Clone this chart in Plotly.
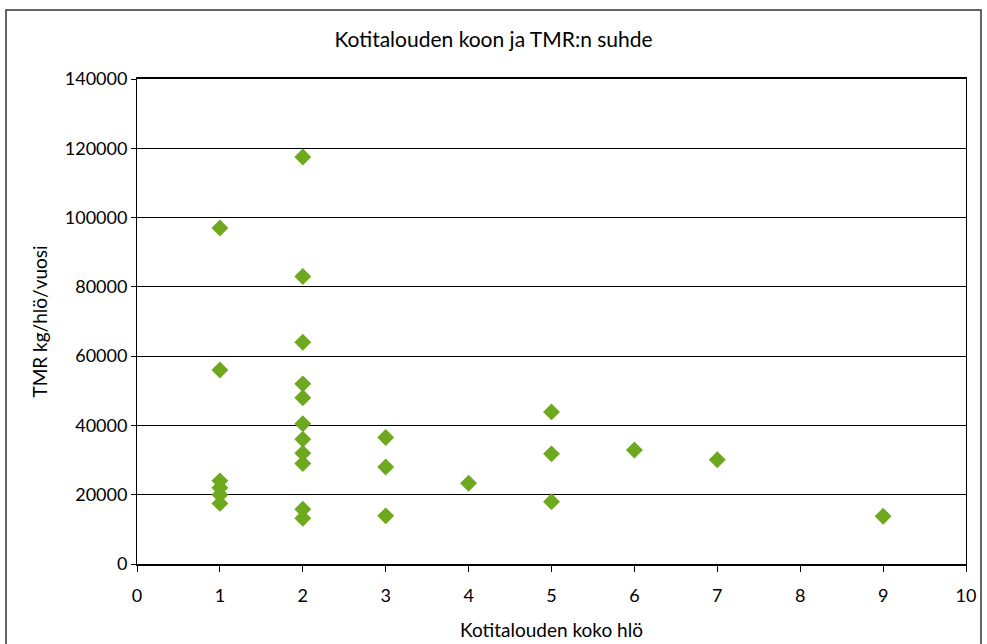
import plotly.graph_objects as go

household_size = [1, 1, 1, 1, 1, 1,
                  2, 2, 2, 2, 2, 2, 2, 2, 2, 2, 2,
                  3, 3, 3,
                  4,
                  5, 5, 5,
                  6, 7, 9]
tmr = [97000, 56000, 24000, 22000, 20000, 17500,
       117500, 83000, 64000, 52000, 48000, 40500, 36000, 32000, 29000, 15800, 13200,
       36500, 28000, 13900,
       23300,
       43900, 31800, 18000,
       32900, 30100, 13800]

x_ticks = list(range(0, 11))
y_ticks = list(range(0, 140001, 20000))

fig = go.Figure()
fig.add_trace(go.Scatter(
    x=household_size, y=tmr, mode="markers",
    marker=dict(symbol="diamond", size=13, color="#6EA81E", line=dict(width=0)),
    showlegend=False,
))

font_family = "Lato, 'Open Sans', sans-serif"
fig.update_layout(
    width=987, height=644,
    margin=dict(l=137, r=21, t=79, b=80),
    paper_bgcolor="white", plot_bgcolor="white",
    font=dict(family=font_family, size=18, color="black"),
    title=dict(text="Kotitalouden koon ja TMR:n suhde", x=0.5, xanchor="center",
               y=1 - 40 / 644, yanchor="middle", font=dict(size=21, family=font_family)),
    xaxis=dict(range=[0, 10], tickvals=x_ticks, ticktext=[str(v) for v in x_ticks],
               showgrid=False, showline=True, linecolor="black", linewidth=1.5, mirror=True,
               ticks="outside", ticklen=6, tickcolor="black", ticklabelstandoff=9,
               tickfont=dict(size=18), automargin=False,
               title=dict(text="Kotitalouden koko hlö", standoff=18, font=dict(size=19)),
               zeroline=False),
    yaxis=dict(range=[0, 140000], tickvals=y_ticks, ticktext=[str(v) for v in y_ticks],
               showgrid=True, gridcolor="black", gridwidth=1,
               showline=True, linecolor="black", linewidth=1, mirror=True,
               ticks="outside", ticklen=5, tickcolor="black",
               tickfont=dict(size=18), automargin=False,
               title=dict(text="TMR kg/hlö/vuosi", standoff=12, font=dict(size=19)),
               zeroline=False),
)

fig.add_shape(type="rect", xref="paper", yref="paper",
              x0=(6 - 137) / 829, x1=(981 - 137) / 829,
              y0=(564 - 660) / 485, y1=(564 - 10) / 485,
              line=dict(color="#333333", width=1.5), fillcolor="rgba(0,0,0,0)", layer="below")

fig.write_html("out.html")
